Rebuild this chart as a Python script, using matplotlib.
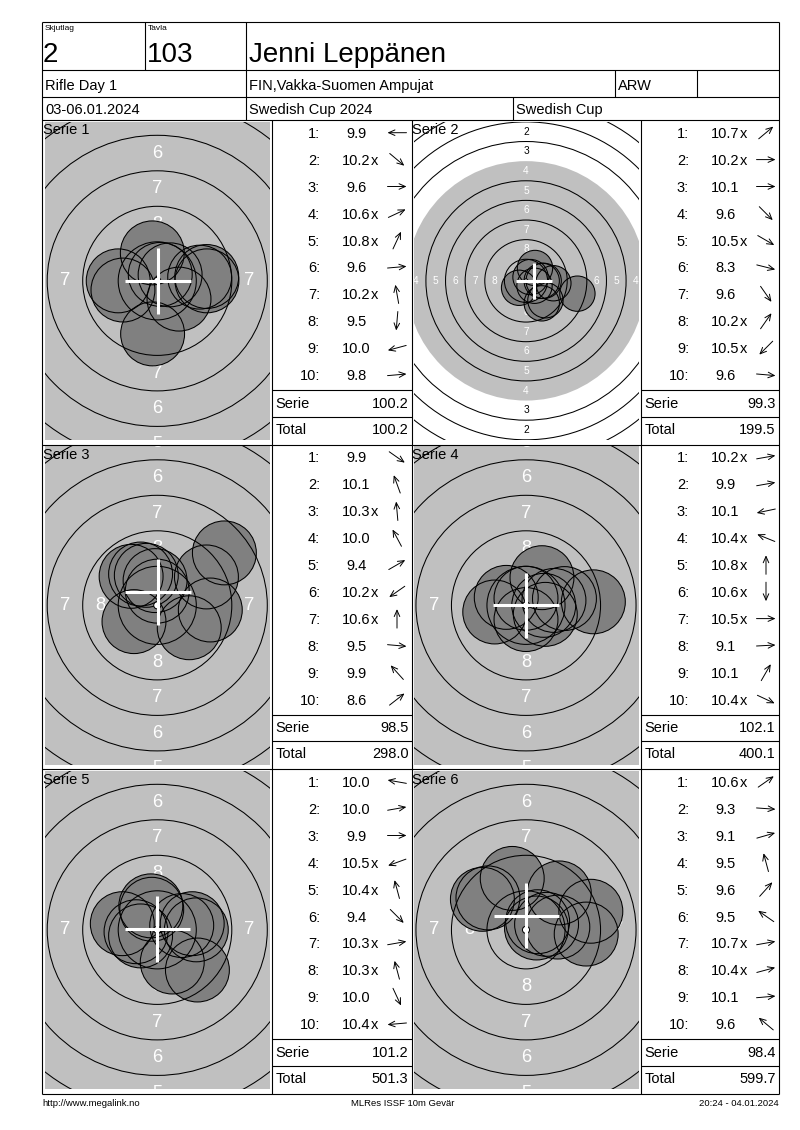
import numpy as np
import matplotlib
matplotlib.use('Agg')
import matplotlib.pyplot as plt
from matplotlib.patches import Circle

plt.rcParams['font.family'] = ['Liberation Sans', 'DejaVu Sans']

#%% Données lues sur la feuille de résultats

header_squad = '2'
header_lane = '103'
shooter = 'Jenni Leppänen'
event = 'Rifle Day 1'
club = 'FIN,Vakka-Suomen Ampujat'
shooter_class = 'ARW'
dates = '03-06.01.2024'
competition = 'Swedish Cup 2024'
cup = 'Swedish Cup'
footer_left = 'http://www.megalink.no'
footer_mid = 'MLRes ISSF 10m Gevär'
footer_right = '20:24 - 04.01.2024'

serie_names = ['Serie 1', 'Serie 2', 'Serie 3', 'Serie 4', 'Serie 5', 'Serie 6']

# score affiché pour chaque coup (x = mouche)
labels_1 = ['9.9', '10.2x', '9.6', '10.6x', '10.8x', '9.6', '10.2x', '9.5', '10.0', '9.8']
labels_2 = ['10.7x', '10.2x', '10.1', '9.6', '10.5x', '8.3', '9.6', '10.2x', '10.5x', '9.6']
labels_3 = ['9.9', '10.1', '10.3x', '10.0', '9.4', '10.2x', '10.6x', '9.5', '9.9', '8.6']
labels_4 = ['10.2x', '9.9', '10.1', '10.4x', '10.8x', '10.6x', '10.5x', '9.1', '10.1', '10.4x']
labels_5 = ['10.0', '10.0', '9.9', '10.5x', '10.4x', '9.4', '10.3x', '10.3x', '10.0', '10.4x']
labels_6 = ['10.6x', '9.3', '9.1', '9.5', '9.6', '9.5', '10.7x', '10.4x', '10.1', '9.6']

angles_1 = [180, -40, 0, 25, 65, 5, 100, -95, 195, 5]
angles_2 = [40, 0, 0, -45, -30, -14, -55, 55, 225, -5]
angles_3 = [-35, 110, 95, 118, 30, 215, 90, -5, 132, 38]
angles_4 = [10, 10, 192, 158, 90, 270, 0, 3, 60, -25]
angles_5 = [170, 10, 0, 200, 105, -45, 10, 105, -65, 185]
angles_6 = [35, -4, 16, 105, 48, 145, 10, 15, 5, 140]

serie_sums = ['100.2', '99.3', '98.5', '102.1', '101.2', '98.4']
run_totals = ['100.2', '199.5', '298.0', '400.1', '501.3', '599.7']

# point moyen (croix blanche), mm
mpi_x = [0.05, 1.07, 0.05, 0.0, 0.0, 0.02]
mpi_y = [0.0, 0.0, 0.94, 0.0, 0.05, 0.99]

# zoom de chaque cible (px par mm)
zoom = [14.2, 7.85, 14.2, 14.2, 14.2, 14.2]

all_labels = [labels_1, labels_2, labels_3, labels_4, labels_5, labels_6]
all_angles = [angles_1, angles_2, angles_3, angles_4, angles_5, angles_6]

#%% Géométrie de la cible ISSF 10 m carabine (mm)

shot_r = 2.25
ring_r = {n: 0.25 + (10 - n) * 2.5 for n in range(1, 11)}
black_r = ring_r[4]

W, H = 800, 1130
fig = plt.figure(figsize=(W / 100, H / 100), dpi=100)
base = fig.add_axes([0, 0, 1, 1])
base.set_xlim(0, W)
base.set_ylim(H, 0)
base.axis('off')

LW = 0.8


def hline(y, x0, x1):
    base.plot([x0, x1], [y, y], color='black', lw=LW, solid_capstyle='butt')


def vline(x, y0, y1):
    base.plot([x, x], [y0, y1], color='black', lw=LW, solid_capstyle='butt')


#%% En-tête

L, R = 42, 779
hline(22, L, R)
hline(70, L, R)
hline(97, L, R)
vline(145, 22, 70)
vline(246, 22, 120)
vline(615, 70, 97)
vline(697, 70, 97)
vline(513, 97, 120)

base.text(45, 30, 'Skjutlag', fontsize=6)
base.text(148, 30, 'Tavla', fontsize=6)
base.text(43, 62.5, header_squad, fontsize=20)
base.text(147, 62.5, header_lane, fontsize=20)
base.text(249, 62.5, shooter, fontsize=20)
base.text(45, 90, event, fontsize=10.5)
base.text(249, 90, club, fontsize=10.5)
base.text(618, 90, shooter_class, fontsize=10.5)
base.text(45, 114, dates, fontsize=10.5)
base.text(249, 114, competition, fontsize=10.5)
base.text(516, 114, cup, fontsize=10.5)

#%% Corps : 3 rangées x 2 séries

row_tops = [120, 444.5, 769]
row_h = 324.5
bottom = row_tops[-1] + row_h
vline(L, 22, bottom)
vline(R, 22, bottom)
for t in row_tops + [bottom]:
    hline(t, L, R)
vline(272, 120, bottom)
vline(412, 120, bottom)
vline(641, 120, bottom)

target_cols = [(45, 269.5), (413.5, 638.5)]
score_cols = [(272, 412), (641, 779)]

for k in range(6):
    row, col = divmod(k, 2)
    top = row_tops[row]
    tx0, tx1 = target_cols[col]
    ty0, ty1 = top + 1.7, top + 320
    tw, th = tx1 - tx0, ty1 - ty0
    s = zoom[k]
    xlim = tw / 2 / s
    ylim = th / 2 / s

    ax = fig.add_axes([tx0 / W, 1 - ty1 / H, tw / W, th / H])
    ax.set_xlim(-xlim, xlim)
    ax.set_ylim(-ylim, ylim)
    ax.axis('off')

    ax.add_patch(Circle((0, 0), black_r, fc='#c0c0c0', ec='none', zorder=1))
    fs = 0.93 * s
    for n in range(1, 9):
        rm = ring_r[n] - 1.25
        c = 'white' if n >= 4 else 'black'
        for px, py in [(0, rm), (0, -rm), (-rm, 0), (rm, 0)]:
            if abs(px) > xlim - 0.3 or abs(py) > ylim + 0.4:
                continue
            ax.text(px, py, str(n), color=c, fontsize=fs, ha='center',
                    va='center', zorder=2, clip_on=True)

    scores = np.array([float(v.rstrip('x')) for v in all_labels[k]])
    dist = (11 - scores) * 2.5
    th_r = np.radians(all_angles[k])
    sx = dist * np.cos(th_r)
    sy = dist * np.sin(th_r)

    for x, y in zip(sx, sy):
        ax.add_patch(Circle((x, y), shot_r, fc='#808080', ec='none', zorder=3))
    for n in range(1, 10):
        if n == 4:
            continue
        ax.add_patch(Circle((0, 0), ring_r[n], fc='none', ec='black',
                            lw=0.75, zorder=4))
    for x, y in zip(sx, sy):
        ax.add_patch(Circle((x, y), shot_r, fc='none', ec='black',
                            lw=0.75, zorder=5))
    ax.add_patch(Circle((0, 0), ring_r[10], fc='white', ec='black',
                        lw=0.75, zorder=6))
    cl = 2.3
    ax.plot([mpi_x[k] - cl, mpi_x[k] + cl], [mpi_y[k], mpi_y[k]],
            color='white', lw=2.2, zorder=7, solid_capstyle='butt')
    ax.plot([mpi_x[k], mpi_x[k]], [mpi_y[k] - cl, mpi_y[k] + cl],
            color='white', lw=2.2, zorder=7, solid_capstyle='butt')

    base.text(tx0 - 2, top + 14.5, serie_names[k], fontsize=10.5)

    # colonne des scores
    c0, c1 = score_cols[col]
    for i, lab in enumerate(all_labels[k]):
        yb = top + 18 + i * 26.9
        base.text(c0 + 48, yb, '%d:' % (i + 1), fontsize=10.5, ha='right')
        base.text(c0 + 84.5, yb, lab.rstrip('x'), fontsize=10.5, ha='center')
        if lab.endswith('x'):
            base.text(c0 + 98.8, yb, 'x', fontsize=10.5, ha='left')
        cx, cy = c0 + 125, yb - 5.3
        a = th_r[i]
        hl = 9.5
        base.annotate('', xy=(cx + hl * np.cos(a), cy - hl * np.sin(a)),
                      xytext=(cx - hl * np.cos(a), cy + hl * np.sin(a)),
                      arrowprops=dict(arrowstyle='->,head_length=0.45,head_width=0.2',
                                      lw=0.7, color='black', shrinkA=0, shrinkB=0))
    hline(top + 270, c0, c1)
    hline(top + 296.5, c0, c1)
    base.text(c0 + 3.5, top + 288, 'Serie', fontsize=10.5)
    base.text(c1 - 3.5, top + 288, serie_sums[k], fontsize=10.5, ha='right')
    base.text(c0 + 3.5, top + 314, 'Total', fontsize=10.5)
    base.text(c1 - 3.5, top + 314, run_totals[k], fontsize=10.5, ha='right')

#%% Pied de page

base.text(42, 1106, footer_left, fontsize=6.8)
base.text(403, 1106, footer_mid, fontsize=6.8, ha='center')
base.text(779, 1106, footer_right, fontsize=6.8, ha='right')

base.set_zorder(10)
fig.savefig('out.png', dpi=100, facecolor='white')
